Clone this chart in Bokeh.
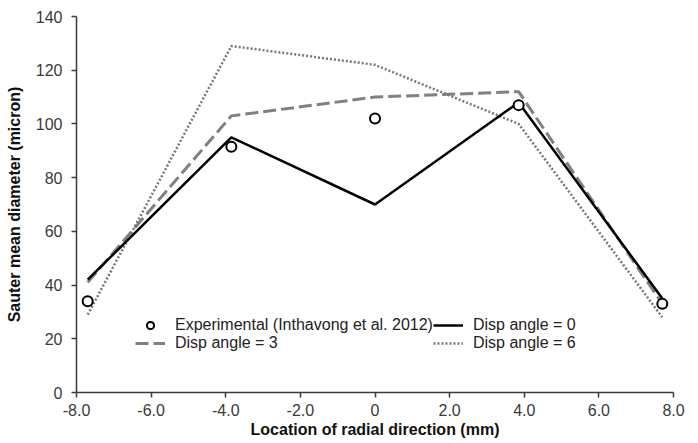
from bokeh.plotting import figure
from bokeh.models import FixedTicker, Legend, LegendItem, Range1d
from bokeh.embed import file_html
from bokeh.resources import INLINE

# Data
positions = [-7.7, -3.85, 0.0, 3.85, 7.7]
experimental = [34, 91.5, 102, 107, 33]
disp_angle_0 = [42, 95, 70, 108, 35]
disp_angle_3 = [41, 103, 110, 112, 33]
disp_angle_6 = [29, 129, 122, 100, 28]

x_ticks = [-8, -6, -4, -2, 0, 2, 4, 6, 8]
x_tick_labels = ["-8.0", "-6.0", "-4.0", "-2.0", "0", "2.0", "4.0", "6.0", "8.0"]
y_ticks = [0, 20, 40, 60, 80, 100, 120, 140]

FONT = "Liberation Sans"

p = figure(
    frame_width=597, frame_height=376,
    min_border_left=76, min_border_right=24, min_border_top=16, min_border_bottom=50,
    x_range=Range1d(-8, 8), y_range=Range1d(0, 140),
    output_backend="svg", toolbar_location=None,
)
p.outline_line_color = None
p.xgrid.visible = False
p.ygrid.visible = False

r3 = p.line(positions, disp_angle_3, line_color="#808080", line_width=3, line_dash="13 5")
r6 = p.line(positions, disp_angle_6, line_color="#777777", line_width=2.5, line_dash="2 2")
r0 = p.line(positions, disp_angle_0, line_color="black", line_width=2.5)
re = p.scatter(positions, experimental, marker="circle", size=10,
               fill_color="white", line_color="black", line_width=2)

for ax in (p.xaxis[0], p.yaxis[0]):
    ax.axis_line_color = "#3a3a3a"
    ax.axis_line_width = 1.5
    ax.major_tick_line_color = "#3a3a3a"
    ax.major_tick_line_width = 1.5
    ax.major_tick_out = 5
    ax.major_tick_in = 0
    ax.minor_tick_out = 0
    ax.minor_tick_in = 0
    ax.major_label_text_font = FONT
    ax.major_label_text_font_size = "16px"
    ax.major_label_text_color = "#3a3a3a"
    ax.axis_label_text_font = FONT
    ax.axis_label_text_font_size = "16px"
    ax.axis_label_text_font_style = "bold"
    ax.axis_label_text_color = "#111111"

p.xaxis.ticker = FixedTicker(ticks=x_ticks)
p.xaxis.major_label_overrides = {t: l for t, l in zip(x_ticks, x_tick_labels)}
p.yaxis.ticker = FixedTicker(ticks=y_ticks)
p.xaxis.axis_label = "Location of radial direction (mm)"
p.yaxis.axis_label = "Sauter mean diameter (micron)"
p.xaxis.major_label_standoff = 6
p.xaxis.axis_label_standoff = 2
p.yaxis.major_label_standoff = 9
p.yaxis.axis_label_standoff = 10

# Items ordered so the two-column legend reads row by row like the reference
legend = Legend(
    items=[
        LegendItem(label="Experimental (Inthavong et al. 2012)", renderers=[re]),
        LegendItem(label="Disp angle = 3", renderers=[r3]),
        LegendItem(label="Disp angle = 0", renderers=[r0]),
        LegendItem(label="Disp angle = 6", renderers=[r6]),
    ],
    ncols=2,
    location=(59, 40),
    glyph_width=30, glyph_height=18, label_height=18,
    label_standoff=10, spacing=0, padding=0, margin=0,
    label_text_font=FONT, label_text_font_size="16px", label_text_color="#222222",
    border_line_color=None, background_fill_alpha=0,
)
p.add_layout(legend, "center")

open("out.html", "w").write(file_html(p, INLINE))
